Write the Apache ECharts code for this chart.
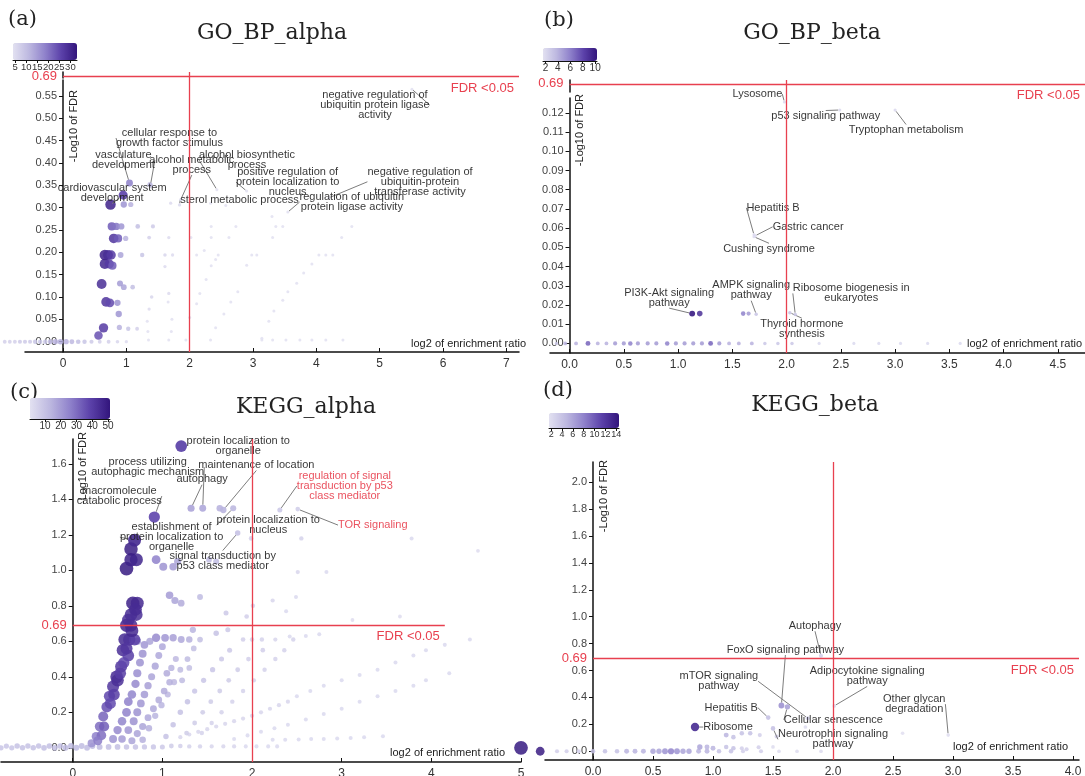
<!DOCTYPE html>
<html>
<head>
<meta charset="utf-8">
<script src="https://cdn.jsdelivr.net/npm/echarts@6/dist/echarts.min.js"></script>
<style>
  html, body { margin: 0; padding: 0; background: #ffffff; }
  #chart { width: 1085px; height: 776px; }
</style>
</head>
<body>
<div id="chart"></div>
<script>
// Enrichment bubble plots: each point is [log2 enrichment ratio, -log10 FDR, gene count]
// Labelled terms add the term name as a fourth field.

const FDR_CUT = 0.69;     // -log10(FDR) threshold line, labelled FDR <0.05
const RATIO_CUT = 2;      // log2 enrichment ratio threshold

// ---------- (a) GO_BP_alpha ----------
const goAlphaPoints = [
  [-0.92,0,7],[-0.84,0,7],[-0.76,0,7],[-0.68,0,8],[-0.6,0,8],[-0.52,0,8],[-0.44,0,9],[-0.36,0,9],
  [-0.28,0,9],[-0.2,0,11],[-0.12,0,12],[-0.04,0,13],[0.05,0,12],[0.14,0,11],[0.24,0,10],[0.34,0,9],
  [0.45,0,8],[0.58,0,7],[0.72,0,7],[0.86,0,6],[1.0,0,5],[1.35,0.004,4],[1.67,0.004,4],[1.94,0.004,4],
  [2.33,0.004,4],[3.14,0.004,4],[3.31,0.004,4],[3.52,0.004,4],[3.74,0.004,4],[3.93,0.004,4],[4.15,0.004,4],[4.42,0.004,4],
  [0.56,0.014,24],[0.64,0.031,27],[0.61,0.129,29],[0.68,0.089,28],[0.74,0.087,25],[0.86,0.087,16],
  [0.66,0.174,30],[0.73,0.174,27],[0.78,0.170,23],[0.66,0.194,31],[0.71,0.194,29],[0.76,0.194,27],[0.91,0.194,14],
  [0.80,0.231,28],[0.87,0.231,23],[0.99,0.231,12],[0.77,0.258,23],[0.84,0.258,20],[0.92,0.258,16],
  [0.75,0.307,31],[0.96,0.307,16],[1.07,0.307,12],[0.88,0.062,16],[0.96,0.122,14],[1.10,0.122,10],[0.90,0.130,15],
  [0.89,0.032,12],[1.03,0.029,9],[1.17,0.029,7],[1.18,0.258,10],[1.42,0.258,8],[1.36,0.233,7],[1.25,0.194,9],
  [1.61,0.194,6],[1.73,0.194,5],[1.67,0.233,5],[1.61,0.168,5],[1.40,0.100,6],[1.36,0.073,5],[1.33,0.046,4],
  [1.67,0.108,5],[1.66,0.089,4],[1.34,0.023,4],[1.71,0.023,4],[1.72,0.050,4],
  [2.02,0.233,4],[2.11,0.194,4],[2.23,0.204,4],[2.34,0.233,4],[2.34,0.258,4],[2.73,0.258,4],[2.62,0.233,4],
  [2.00,0.054,4],[2.11,0.085,4],[2.16,0.108,4],[2.26,0.139,4],[2.34,0.170,4],[2.41,0.184,4],[2.45,0.194,4],
  [2.41,0.031,4],[2.54,0.062,4],[2.65,0.089,4],[2.76,0.112,4],[2.90,0.171,4],[2.98,0.194,4],[3.06,0.194,4],
  [3.14,0.008,4],[3.25,0.046,4],[3.33,0.069,4],[3.47,0.093,4],[3.55,0.112,4],[3.69,0.131,4],[3.80,0.154,4],
  [3.93,0.174,4],[4.04,0.194,4],[4.15,0.194,4],[4.26,0.194,4],[3.31,0.233,4],[3.47,0.258,4],[3.36,0.258,4],
  [4.40,0.233,4],[4.56,0.258,4],[1.37,0.352,10],[1.70,0.310,5],[2.33,0.310,4],[2.57,0.305,4],[3.30,0.280,4]
];
const goAlphaTerms = [
  [0.95,0.328,26,'cardiovascular system\ndevelopment'],
  [1.38,0.350,11,'vasculature\ndevelopment'],
  [1.05,0.355,18,'cellular response to\ngrowth factor stimulus'],
  [1.86,0.318,5,'alcohol metabolic\nprocess'],
  [2.43,0.340,4,'alcohol biosynthetic\nprocess'],
  [2.90,0.337,4,'positive regulation of\nprotein localization to\nnucleus'],
  [1.84,0.306,5,'sterol metabolic process'],
  [4.20,0.322,4,'negative regulation of\nubiquitin-protein\ntransferase activity'],
  [3.55,0.290,4,'regulation of ubiquitin\nprotein ligase activity'],
  [5.51,0.565,4,'negative regulation of\nubiquitin protein ligase\nactivity']
];
const goAlphaXTicks = [0,1,2,3,4,5,6,7];
const goAlphaYTicks = [0,0.05,0.1,0.15,0.2,0.25,0.3,0.35,0.4,0.45,0.5,0.55];
const goAlphaBarTicks = [5,10,15,20,25,30];

// ---------- (b) GO_BP_beta ----------
const goBetaPoints = [
  [1.20,0.0155,9],[1.60,0.0155,6],[1.65,0.0155,5],
  [-0.12,0,3],[-0.04,0,4],[0.06,0,4],[0.17,0,7],[0.26,0,4],[0.34,0,4],[0.42,0,5],[0.5,0,5],[0.56,0,6],
  [0.63,0,5],[0.72,0,5],[0.8,0,5],[0.9,0,6],[0.98,0,5],[1.06,0,5],[1.14,0,5],[1.22,0,5],[1.3,0,7],
  [1.38,0,5],[1.47,0,4],[1.56,0,4],[1.68,0,4],[1.8,0,3],[1.92,0,3],[2.05,0,3],[2.3,0,2],[2.62,0,2],
  [2.85,0,2],[3.05,0,2],[3.3,0,2],[3.6,0,2]
];
const goBetaTerms = [
  [1.98,0.1257,2,'Lysosome'],
  [2.49,0.1215,2,'p53 signaling pathway'],
  [3.00,0.1215,2,'Tryptophan metabolism'],
  [1.70,0.0565,2,'Hepatitis B'],
  [1.71,0.0560,2,'Gastric cancer'],
  [1.70,0.0555,2,'Cushing syndrome'],
  [1.13,0.0155,10,'PI3K-Akt signaling\npathway'],
  [1.72,0.0152,3,'AMPK signaling\npathway'],
  [2.03,0.0160,3,'Thyroid hormone\nsynthesis'],
  [2.08,0.0151,3,'Ribosome biogenesis in\neukaryotes']
];
const goBetaXTicks = [0,0.5,1,1.5,2,2.5,3,3.5,4,4.5];
const goBetaYTicks = [0,0.01,0.02,0.03,0.04,0.05,0.06,0.07,0.08,0.09,0.1,0.11,0.12];
const goBetaBarTicks = [2,4,6,8,10];

// ---------- (c) KEGG_alpha ----------
const keggAlphaPoints = [
  [-0.8,0,9],[-0.74,0.01,9],[-0.68,0,9],[-0.62,0.01,10],[-0.56,0,10],[-0.5,0.01,10],[-0.44,0,10],[-0.38,0.01,10],
  [-0.32,0,11],[-0.26,0.01,11],[-0.2,0,11],[-0.14,0.01,11],[-0.08,0,12],[-0.02,0.01,12],[0.04,0,12],[0.1,0.01,12],
  [0.16,0,12],[0.22,0.01,12],[0.3,0.005,12],[0.4,0.005,11],[0.5,0.005,11],[0.6,0.005,10],[0.7,0.005,10],
  [0.8,0.005,9],[0.9,0.005,9],[1.0,0.005,8],[1.1,0.01,7],[1.2,0.01,6],
  [1.3,0.008,5],[1.42,0.008,5],[1.55,0.008,4],[1.68,0.008,4],[1.8,0.008,4],[1.93,0.008,3],[2.05,0.008,3],
  [2.18,0.008,3],[2.28,0.008,3],
  [2.23,0.045,3],[2.37,0.045,3],[2.52,0.047,3],[2.66,0.05,3],[2.8,0.05,3],[2.95,0.052,3],[3.1,0.055,3],
  [3.25,0.06,3],[3.46,0.065,3],
  [1.8,0.05,3],[1.95,0.07,3],[2.1,0.09,3],[2.25,0.11,3],[2.4,0.13,3],[2.6,0.16,3],[2.8,0.19,3],[3.0,0.22,3],
  [3.2,0.26,3],[3.4,0.29,3],[3.6,0.32,3],[3.8,0.35,3],[3.94,0.38,3],[4.2,0.42,3],
  [1.2,0.06,4],[1.3,0.075,4],[1.4,0.09,4],[1.5,0.105,4],[1.6,0.12,4],[1.7,0.135,4],[1.8,0.15,4],[1.9,0.165,4],
  [2.0,0.18,4],[2.1,0.2,4],[2.2,0.22,4],[2.3,0.24,4],[2.4,0.26,4],[2.5,0.29,3],[2.65,0.32,3],[2.8,0.35,3],
  [3.0,0.38,3],[3.2,0.41,3],[3.4,0.44,3],[3.6,0.48,3],[3.8,0.52,3],[3.94,0.55,3],[4.15,0.58,3],[4.43,0.61,3],
  [1.44,0.083,5],[1.55,0.14,5],[1.66,0.2,5],[1.78,0.26,5],[1.9,0.32,5],[2.02,0.38,5],[2.14,0.44,5],
  [2.26,0.5,5],[2.36,0.55,5],[2.46,0.61,5],
  [1.27,0.083,7],[1.36,0.14,7],[1.45,0.2,7],[1.54,0.26,7],[1.64,0.32,7],[1.74,0.38,7],[1.84,0.44,7],
  [1.96,0.5,6],[2.12,0.55,6],
  [1.04,0.064,10],[1.12,0.13,10],[1.2,0.2,10],[1.28,0.26,10],[1.36,0.32,9],[1.46,0.38,9],[1.56,0.44,9],
  [1.66,0.5,8],[1.75,0.55,8],
  [0.78,0.045,15],[0.85,0.11,15],[0.92,0.18,14],[0.99,0.24,14],[1.06,0.3,13],[1.13,0.37,13],[1.2,0.44,12],
  [1.28,0.5,12],[1.35,0.56,11],[1.42,0.61,11],
  [0.45,0.05,22],[0.5,0.1,24],[0.55,0.15,25],[0.6,0.2,26],[0.62,0.26,26],[0.66,0.3,25],[0.7,0.36,24],
  [0.72,0.42,23],[0.75,0.48,22],[0.78,0.53,22],[0.8,0.58,21],
  [0.55,0.05,20],[0.62,0.1,21],[0.68,0.15,22],[0.72,0.2,22],[0.76,0.25,21],[0.8,0.3,20],[0.84,0.35,19],
  [0.88,0.4,18],[0.92,0.46,18],[0.96,0.52,17],[1.0,0.57,17],
  [0.66,0.04,18],[0.72,0.08,18],[0.78,0.12,18],[0.84,0.17,17],[0.9,0.22,17],[0.96,0.27,16],[1.02,0.32,16],
  [1.08,0.37,15],[1.1,0.45,14],[1.15,0.5,13],[1.22,0.38,12],[1.3,0.45,11],[1.05,0.42,16],
  [0.72,0.6,20],[0.86,0.6,18],[0.93,0.62,24],[1.03,0.62,21],[1.12,0.62,19],[1.21,0.61,17],[1.3,0.61,15],
  [0.67,0.815,48],[0.72,0.815,46],[0.65,0.75,45],[0.71,0.75,44],[0.60,0.69,47],[0.65,0.69,45],[0.58,0.61,45],
  [0.63,0.61,43],[0.69,0.61,40],[0.56,0.55,44],[0.62,0.52,40],[0.54,0.458,42],[0.49,0.40,45],[0.45,0.345,42],
  [0.41,0.29,38],[0.38,0.23,36],[0.34,0.176,32],[0.30,0.12,30],[0.26,0.064,26],[0.21,0.026,22],
  [0.5,0.38,44],[0.53,0.42,40],[0.57,0.48,38],[0.46,0.3,40],[0.42,0.25,37],[0.35,0.12,33],[0.32,0.07,30],
  [0.28,0.04,27],[0.6,0.56,42],[0.66,0.66,46],[0.62,0.72,44],[0.7,0.78,45],
  [1.08,0.86,20],[1.14,0.83,18],[1.21,0.815,16],[1.42,0.85,12],[1.71,0.76,8],[1.94,0.74,6],[2.01,0.80,5],
  [2.23,0.83,4],[2.49,0.85,3],[2.38,0.77,3],[1.34,0.665,14],[1.6,0.645,10],[1.73,0.665,8],[1.90,0.61,6],
  [2.0,0.61,5],[2.11,0.61,5],[2.26,0.61,4],[2.42,0.627,3],[2.6,0.63,3],[2.75,0.64,3],[3.12,0.72,2],[3.65,0.74,2],
  [1.64,1.35,15],[1.99,1.18,6],[2.55,1.18,5],[3.78,1.18,3],[4.52,1.11,2],[2.51,0.99,4],[2.83,0.99,3],
  [0.60,1.01,50],[0.65,1.06,48],[0.71,1.06,47],[0.65,1.12,49],[0.93,1.06,26],[1.01,1.02,22],[1.12,1.02,20],
  [1.17,1.05,18],[1.60,1.05,12],[1.52,1.06,12],
  [5.0,0,50]
];
const keggAlphaTerms = [
  [1.21,1.70,40,'protein localization to\norganelle'],
  [1.45,1.35,17,'process utilizing\nautophagic mechanism'],
  [1.32,1.35,18,'autophagy'],
  [1.68,1.34,14,'maintenance of location'],
  [0.91,1.30,38,'macromolecule\ncatabolic process'],
  [0.69,1.17,46,'establishment of\nprotein localization to\norganelle'],
  [1.79,1.35,13,'protein localization to\nnucleus'],
  [1.84,1.21,10,'signal transduction by\np53 class mediator'],
  [2.31,1.34,8,'regulation of signal\ntransduction by p53\nclass mediator'],
  [2.51,1.345,6,'TOR signaling']
];
const keggAlphaHighlight = ['regulation of signal\ntransduction by p53\nclass mediator', 'TOR signaling'];
const keggAlphaXTicks = [0,1,2,3,4,5];
const keggAlphaYTicks = [0,0.2,0.4,0.6,0.8,1.0,1.2,1.4,1.6];
const keggAlphaBarTicks = [10,20,30,40,50];

// ---------- (d) KEGG_beta ----------
const keggBetaPoints = [
  [-0.44,0,14],
  [-0.3,0,3],[-0.22,0,3],[-0.12,0,3],[0.0,0,4],[0.1,0,4],[0.2,0,4],[0.28,0,5],[0.35,0,5],[0.42,0,5],
  [0.5,0,6],[0.55,0,6],[0.6,0,7],[0.65,0,8],[0.7,0,7],[0.75,0,6],[0.8,0,6],[0.88,0,5],[0.95,0,5],
  [1.05,0,4],[1.15,0,4],[1.25,0,3],[1.4,0,3],[1.55,0,2],[1.7,0,2],[1.9,0,2],
  [0.89,0.032,6],[0.95,0.032,5],[1.0,0.022,5],[1.11,0.032,4],[1.17,0.022,4],[1.24,0.022,3],[1.28,0.015,3],
  [1.38,0.03,3],[1.5,0.032,2],
  [1.11,0.12,5],[1.17,0.105,4],[1.24,0.134,4],[1.31,0.134,4],[1.39,0.12,3],[1.53,0.11,3],[1.77,0.18,2],
  [2.58,0.134,1.8]
];
const keggBetaTerms = [
  [0.85,0.18,13,'Ribosome'],
  [1.46,0.25,4,'Hepatitis B'],
  [1.79,0.245,3,'mTOR signaling\npathway'],
  [1.57,0.34,7,'FoxO signaling pathway'],
  [1.90,0.71,3,'Autophagy'],
  [2.01,0.337,2,'Adipocytokine signaling\npathway'],
  [1.62,0.33,6,'Cellular senescence'],
  [1.50,0.17,4,'Neurotrophin signaling\npathway'],
  [2.96,0.12,1.8,'Other glycan\ndegradation']
];
const keggBetaXTicks = [0,0.5,1,1.5,2,2.5,3,3.5,4];
const keggBetaYTicks = [0,0.2,0.4,0.6,0.8,1.0,1.2,1.4,1.6,1.8,2.0];
const keggBetaBarTicks = [2,4,6,8,10,12,14];

// ---------- label offsets (px from each labelled point) ----------
const goAlphaShift = [[-11,-2],[-27,-25],[40,-45],[11,-35],[30,-30],[41,-9],[60,-5],[91,-16],[64,-10],[-37,16]];
const goBetaShift = [[-27,-8],[-14,6],[11,20],[19,-27],[53,-9],[15,12],[-23,-16],[-5,-24],[12,16],[56,-21]];
const keggAlphaShift = [[57,0],[-55,-41],[11,-29],[33,-45],[-35,-21],[37,-3],[35,17],[-15,28],[65,-24],[75,16]];
const keggBetaShift = [[33,0],[-37,-10],[-89,-37],[4,-56],[-6,-30],[33,-30],[46,13],[60,11],[-34,-31]];

// ---------- styling ----------
const RED = '#e8404f';
const SANS = "'Liberation Sans', Arial, sans-serif";
const SERIF = "'DejaVu Serif', serif";
const PALETTE = ['#e2e1f1', '#bdb8e0', '#8f82cb', '#5c42aa', '#32157c'];

const panels = [
  { points: goAlphaPoints, terms: goAlphaTerms, shift: goAlphaShift, xTicks: goAlphaXTicks, yTicks: goAlphaYTicks,
    barTicks: goAlphaBarTicks, highlight: [],
    grid: { left: 25, top: 72, width: 494, height: 280 }, xMin: -0.6, xMax: 7.2, yMin: -0.023, yMax: 0.70,
    yBreak: [0.587, 0.688, '0.7%'], xDec: 0, yDec: 2, hEnd: 7.2,
    bar: { left: 13, top: 43, len: 64, thick: 17, font: 9.5 }, cRange: [4, 33], sRange: [3, 11],
    xNameGap: 7, xNamePad: 3, yNameGap: -18 },
  { points: goBetaPoints, terms: goBetaTerms, shift: goBetaShift, xTicks: goBetaXTicks, yTicks: goBetaYTicks,
    barTicks: goBetaBarTicks, highlight: [],
    grid: { left: 550, top: 80, width: 535, height: 273 }, xMin: -0.18, xMax: 4.75, yMin: -0.005, yMax: 0.692,
    yBreak: [0.128, 0.686, '2.2%'], xDec: 1, yDec: 2, hEnd: 4.75,
    bar: { left: 543, top: 48, len: 54, thick: 13, font: 10 }, cRange: [1.6, 10.3], sRange: [3, 6],
    xNameGap: -3, xNamePad: 4, yNameGap: -14 },
  { points: keggAlphaPoints, terms: keggAlphaTerms, shift: keggAlphaShift, xTicks: keggAlphaXTicks, yTicks: keggAlphaYTicks,
    barTicks: keggAlphaBarTicks, highlight: keggAlphaHighlight,
    grid: { left: 1, top: 439, width: 520, height: 323 }, xMin: -0.8, xMax: 5.0, yMin: -0.08, yMax: 1.74,
    yBreak: null, xDec: 0, yDec: 1, hEnd: 4.15,
    bar: { left: 30, top: 398, len: 80, thick: 21, font: 10 }, cRange: [0.5, 51.3], sRange: [3.5, 14],
    xNameGap: -16, xNamePad: 4, yNameGap: 7 },
  { points: keggBetaPoints, terms: keggBetaTerms, shift: keggBetaShift, xTicks: keggBetaXTicks, yTicks: keggBetaYTicks,
    barTicks: keggBetaBarTicks, highlight: [],
    grid: { left: 545, top: 462, width: 534, height: 298 }, xMin: -0.4, xMax: 4.05, yMin: -0.065, yMax: 2.15,
    yBreak: null, xDec: 1, yDec: 1, hEnd: 4.05,
    bar: { left: 549, top: 413, len: 70, thick: 15, font: 9 }, cRange: [1.6, 14.5], sRange: [3.5, 9],
    xNameGap: -11, xNamePad: 8, yNameGap: 2 }
];

const headings = [
  { text: '(a)', x: 8, y: 9, size: 21 }, { text: 'GO_BP_alpha', x: 272, y: 22, size: 22 },
  { text: '(b)', x: 544, y: 10, size: 21 }, { text: 'GO_BP_beta', x: 812, y: 22, size: 22 },
  { text: '(c)', x: 10, y: 382, size: 21 }, { text: 'KEGG_alpha', x: 306, y: 396, size: 22 },
  { text: '(d)', x: 543, y: 380, size: 21 }, { text: 'KEGG_beta', x: 815, y: 394, size: 22 }
];

function sizeOf(c, cr, sr) {
  const t = Math.max(0, Math.min(1, (c - cr[0]) / (cr[1] - cr[0])));
  return sr[0] + (sr[1] - sr[0]) * t;
}

const option = {
  animation: false,
  backgroundColor: '#ffffff',
  grid: [], xAxis: [], yAxis: [], series: [], visualMap: [], graphic: []
};

panels.forEach((p, i) => {
  option.grid.push(Object.assign({ containLabel: false, outerBoundsMode: 'none' }, p.grid));

  option.xAxis.push({
    gridIndex: i, type: 'value', min: p.xMin, max: p.xMax,
    name: 'log2 of enrichment ratio', nameLocation: 'end', nameGap: p.xNameGap,
    nameTextStyle: { align: 'right', verticalAlign: 'bottom', padding: [0, 0, p.xNamePad, 0],
      fontSize: 11, color: '#222', fontFamily: SANS },
    axisLine: { onZero: false, lineStyle: { color: '#111', width: 1.5 } },
    axisTick: { inside: true, length: 4, customValues: p.xTicks, lineStyle: { color: '#111' } },
    axisLabel: { customValues: p.xTicks, formatter: v => v.toFixed(p.xDec), fontSize: 12, color: '#333',
      margin: 6, fontFamily: SANS, showMinLabel: true, showMaxLabel: true },
    splitLine: { show: false }
  });

  // the y axis sits where the enrichment ratio is 0
  const zeroShift = (0 - p.xMin) / (p.xMax - p.xMin) * p.grid.width;
  const yAxis = {
    gridIndex: i, type: 'value', min: p.yMin, max: p.yMax, offset: -zeroShift,
    name: '-Log10 of FDR', nameLocation: 'end', nameGap: p.yNameGap, nameRotate: 90,
    nameTextStyle: { align: 'right', verticalAlign: 'top', padding: [5, 0, 0, 0], fontSize: 11,
      color: '#222', fontFamily: SANS },
    axisLine: { onZero: false, lineStyle: { color: '#111', width: 1.5 } },
    axisTick: { length: 4, customValues: p.yTicks, lineStyle: { color: '#111' } },
    axisLabel: {
      customValues: p.yTicks.concat([FDR_CUT]),
      formatter: v => Math.abs(v - FDR_CUT) < 1e-9 ? '{r|' + FDR_CUT.toFixed(2) + '}' : v.toFixed(p.yDec),
      rich: { r: { color: RED, fontSize: 13, fontFamily: SANS } },
      fontSize: 11, color: '#444', fontFamily: SANS, margin: 6, showMinLabel: true, showMaxLabel: true
    },
    splitLine: { show: false }
  };
  if (p.yBreak) {
    yAxis.breaks = [{ start: p.yBreak[0], end: p.yBreak[1], gap: p.yBreak[2] }];
    yAxis.breakArea = { show: false, itemStyle: { opacity: 0, borderWidth: 0 }, zigzagAmplitude: 0 };
  }
  option.yAxis.push(yAxis);

  const symbolSize = v => sizeOf(v[2], p.cRange, p.sRange);

  option.series.push({
    type: 'scatter', xAxisIndex: i, yAxisIndex: i, data: p.points, symbolSize, clip: false, silent: true,
    itemStyle: { opacity: 0.85 }, z: 3,
    markLine: {
      silent: true, symbol: 'none', animation: false,
      lineStyle: { color: RED, width: 1.3, type: 'solid' },
      label: { show: false },
      data: [
        [
          { coord: [0, FDR_CUT], label: { show: true, position: 'insideEndBottom', formatter: 'FDR <0.05',
              color: RED, fontSize: 13, fontFamily: SANS, distance: 5 } },
          { coord: [p.hEnd, FDR_CUT] }
        ],
        { xAxis: RATIO_CUT }
      ]
    }
  });

  option.series.push({
    type: 'scatter', xAxisIndex: i, yAxisIndex: i, clip: false, silent: true, z: 4,
    data: p.terms.map(t => ({ value: t, label: p.highlight.includes(t[3]) ? { color: RED } : {} })),
    symbolSize,
    itemStyle: { opacity: 0.9 },
    label: { show: true, position: 'inside', formatter: prm => prm.value[3], fontSize: 11, lineHeight: 10,
      color: '#1e1e1e', fontFamily: SANS },
    labelLine: { show: true, lineStyle: { color: '#7d7d7d', width: 1 } },
    labelLayout: prm => ({ dx: p.shift[prm.dataIndex][0], dy: p.shift[prm.dataIndex][1] })
  });

  option.visualMap.push({
    type: 'continuous', seriesIndex: [2 * i, 2 * i + 1], dimension: 2,
    min: p.cRange[0], max: p.cRange[1], orient: 'horizontal',
    left: p.bar.left, top: p.bar.top, itemWidth: p.bar.thick, itemHeight: p.bar.len,
    calculable: false, hoverLink: false, padding: 0, itemGap: 0,
    inRange: { color: PALETTE }
  });
});

// colour-bar scales under each gradient bar
panels.forEach((p, i) => {
  const g = 4 + i;
  option.grid.push({ left: p.bar.left, top: p.bar.top + p.bar.thick - 1, width: p.bar.len, height: 1,
    containLabel: false, outerBoundsMode: 'none' });
  option.xAxis.push({
    gridIndex: g, type: 'value', min: p.cRange[0], max: p.cRange[1],
    axisLine: { onZero: false, lineStyle: { color: '#111', width: 1 } },
    axisTick: { length: 3, customValues: p.barTicks, lineStyle: { color: '#111' } },
    axisLabel: { customValues: p.barTicks, fontSize: p.bar.font, color: '#333', margin: 2, fontFamily: SANS,
      showMinLabel: true, showMaxLabel: true, hideOverlap: false },
    splitLine: { show: false }
  });
  option.yAxis.push({ gridIndex: g, type: 'value', show: false, min: 0, max: 1 });
});

headings.forEach(h => {
  option.graphic.push({
    type: 'text', x: h.x, y: h.y, silent: true,
    style: { text: h.text, fill: '#222', font: h.size + 'px ' + SERIF,
      textAlign: h.text.startsWith('(') ? 'left' : 'center', verticalAlign: 'top' }
  });
});

const chart = echarts.init(document.getElementById('chart'), null, { renderer: 'canvas' });
chart.setOption(option);
</script>
</body>
</html>
